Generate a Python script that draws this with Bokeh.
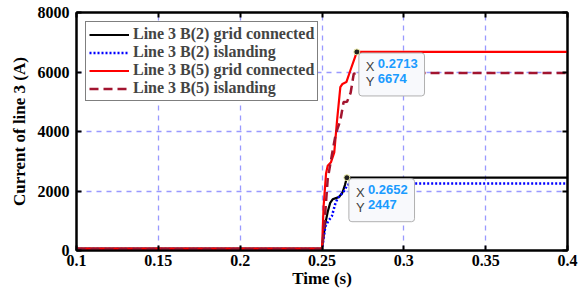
from bokeh.plotting import figure
from bokeh.models import (FixedTicker, Legend, LegendItem, LinearAxis, Label, Range1d)
from bokeh.embed import file_html
from bokeh.resources import INLINE

# ---- data ----
x_ticks = [0.1, 0.15, 0.2, 0.25, 0.3, 0.35, 0.4]
x_tick_labels = ["0.1", "0.15", "0.2", "0.25", "0.3", "0.35", "0.4"]
y_ticks = [0, 2000, 4000, 6000, 8000]
y_tick_labels = ["0", "2000", "4000", "6000", "8000"]

t_b2_grid = [0.1, 0.25, 0.2505, 0.252, 0.2535, 0.255, 0.2565, 0.2585, 0.2605, 0.2625, 0.264, 0.2652, 0.27, 0.4]
i_b2_grid = [60, 60, 300, 900, 1300, 1600, 1720, 1760, 1800, 1950, 2200, 2447, 2447, 2447]

t_b2_isl = [0.1, 0.25, 0.251, 0.252, 0.254, 0.256, 0.258, 0.2595, 0.261, 0.263, 0.2655, 0.268, 0.4]
i_b2_isl = [50, 50, 400, 800, 1000, 1150, 1550, 1750, 1850, 1950, 2200, 2250, 2250]

t_b5_grid = [0.1, 0.25, 0.251, 0.2525, 0.2535, 0.2555, 0.2575, 0.2592, 0.2612, 0.2625, 0.2649, 0.267, 0.2713, 0.3, 0.4]
i_b5_grid = [60, 60, 1500, 2600, 2850, 2970, 3300, 4370, 5490, 5600, 5660, 6000, 6674, 6674, 6674]

t_b5_isl = [0.1, 0.25, 0.2515, 0.2535, 0.256, 0.258, 0.2595, 0.2612, 0.2632, 0.2653, 0.2675, 0.2694, 0.2717, 0.3, 0.4]
i_b5_isl = [40, 40, 900, 2400, 3200, 3800, 4100, 4370, 4990, 5000, 5300, 5940, 5970, 5970, 5970]

tips = [(0.2713, 6674), (0.2652, 2447)]
tip_x_text = ["0.2713", "0.2652"]
tip_y_text = ["6674", "2447"]

series_labels = ["Line 3 B(2) grid connected", "Line 3 B(2) islanding",
                 "Line 3 B(5) grid connected", "Line 3 B(5) islanding"]

SERIF = "Liberation Serif"
TIP_BG = "#f8f9fc"

p = figure(width=581, height=291, output_backend="svg", toolbar_location=None,
           x_range=Range1d(0.1, 0.4), y_range=Range1d(0, 8000),
           min_border_left=76, min_border_right=14, min_border_top=12, min_border_bottom=41)
p.background_fill_color = "white"
p.outline_line_color = "black"
p.outline_line_width = 2

r1 = p.line(t_b2_grid, i_b2_grid, color="black", line_width=2.2)
r2 = p.line(t_b2_isl, i_b2_isl, color="#0000ff", line_width=2.5, line_dash="2 2")
r3 = p.line(t_b5_grid, i_b5_grid, color="#ff0000", line_width=2.2)
r4 = p.line(t_b5_isl, i_b5_isl, color="#a2142f", line_width=2.5, line_dash="9 5")

# axes styling
for ax in (p.xaxis[0], p.yaxis[0]):
    ax.axis_line_width = 2
    ax.axis_line_color = "black"
    ax.major_tick_in = 5
    ax.major_tick_out = 0
    ax.minor_tick_in = 0
    ax.minor_tick_out = 0
    ax.major_tick_line_width = 2
    ax.major_label_text_font = SERIF
    ax.major_label_text_font_style = "bold"
    ax.major_label_text_font_size = "16px"
    ax.major_label_text_color = "black"
    ax.axis_label_text_font = SERIF
    ax.axis_label_text_font_style = "bold"
    ax.axis_label_text_font_size = "17px"
    ax.axis_label_text_color = "black"

p.xaxis[0].ticker = FixedTicker(ticks=x_ticks)
p.xaxis[0].major_label_overrides = dict(zip(x_ticks, x_tick_labels))
p.xaxis[0].axis_label = "Time (s)"
p.xaxis[0].axis_label_standoff = 0
p.xaxis[0].major_label_standoff = 4
p.yaxis[0].ticker = FixedTicker(ticks=y_ticks)
p.yaxis[0].major_label_overrides = dict(zip(y_ticks, y_tick_labels))
p.yaxis[0].axis_label = "Current of line 3 (A)"
p.yaxis[0].axis_label_standoff = 6
p.yaxis[0].major_label_standoff = 7

top = LinearAxis(ticker=FixedTicker(ticks=x_ticks),
                 major_label_overrides={t: "" for t in x_ticks},
                 major_label_text_font_size="8px", major_label_standoff=0,
                 major_tick_in=5, major_tick_out=0, minor_tick_in=0, minor_tick_out=0,
                 axis_line_width=2, major_tick_line_width=2)
right = LinearAxis(ticker=FixedTicker(ticks=y_ticks),
                   major_label_overrides={t: "" for t in y_ticks},
                   major_label_text_font_size="8px", major_label_standoff=0,
                   major_tick_in=5, major_tick_out=0, minor_tick_in=0, minor_tick_out=0,
                   axis_line_width=2, major_tick_line_width=2)
p.add_layout(top, "above")
p.add_layout(right, "right")

# grid
for g in (p.xgrid[0], p.ygrid[0]):
    g.grid_line_color = "#9999ff"
    g.grid_line_dash = "5 5"
    g.grid_line_width = 1.3
p.xgrid[0].ticker = FixedTicker(ticks=x_ticks)
p.ygrid[0].ticker = FixedTicker(ticks=y_ticks)

# data tips
for (tx, ty), xs, ys in zip(tips, tip_x_text, tip_y_text):
    box = Label(x=tx, y=ty, x_offset=2, y_offset=-1, text="X " + xs + " \nY " + ys,
                text_font="Liberation Sans", text_font_size="13px", text_font_style="bold",
                text_color=TIP_BG, text_align="left", text_baseline="top",
                background_fill_color=TIP_BG, background_fill_alpha=1.0,
                border_line_color="#b0b0b0", border_line_width=1, padding=5, border_radius=3)
    p.add_layout(box)
    for k, (lab, val) in enumerate([("X", xs), ("Y", ys)]):
        p.add_layout(Label(x=tx, y=ty, x_offset=9, y_offset=-7 - k * 15.5, text=lab,
                           text_font="Liberation Sans", text_font_size="13px",
                           text_color="#404040", text_align="left", text_baseline="top"))
        p.add_layout(Label(x=tx, y=ty, x_offset=21, y_offset=-7 - k * 15.5, text=val,
                           text_font="Liberation Sans", text_font_size="13px",
                           text_font_style="bold",
                           text_color="#1a9bff", text_align="left", text_baseline="top"))
p.scatter([t for t, _ in tips], [v for _, v in tips], size=6, fill_color="#202020",
          line_color="#e8e8a0", line_width=1)

legend = Legend(items=[LegendItem(label=lab, renderers=[r]) for lab, r in
                       zip(series_labels, [r1, r2, r3, r4])],
                location="top_left")
legend.label_text_font = SERIF
legend.label_text_font_style = "bold"
legend.label_text_font_size = "16px"
legend.label_height = 15
legend.glyph_height = 15
legend.glyph_width = 40
legend.spacing = 0
legend.padding = 3
legend.margin = 9
legend.label_standoff = 4
legend.border_line_color = "black"
legend.border_line_width = 1.5
legend.background_fill_alpha = 1.0
p.add_layout(legend)

open("out.html", "w").write(file_html(p, INLINE))
